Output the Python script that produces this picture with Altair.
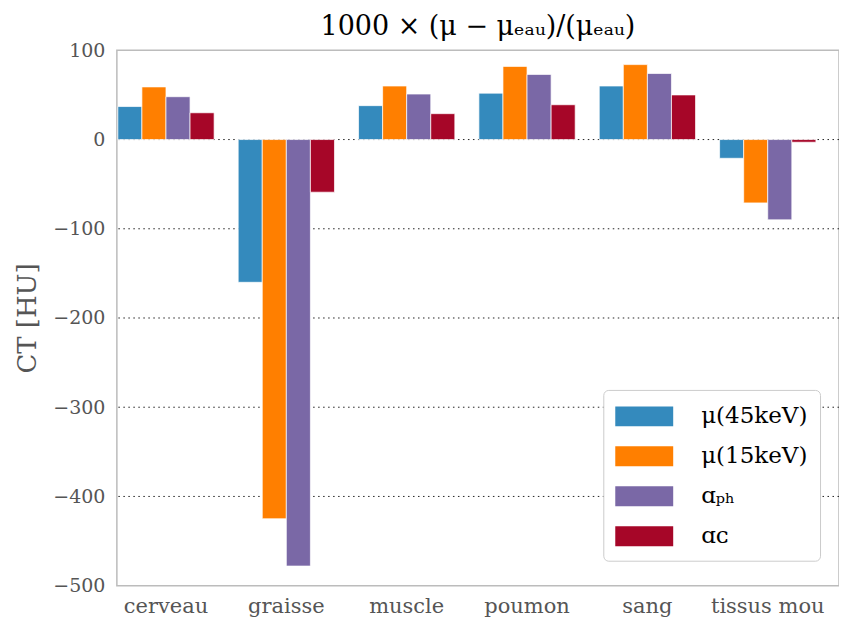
import altair as alt
import pandas as pd

# ---- data ----
categories = ["cerveau", "graisse", "muscle", "poumon", "sang", "tissus mou"]
series_names = ["μ(45keV)", "μ(15keV)", "ɑₚₕ", "ɑᴄ"]
mu_45kev = [37, -160, 38, 52, 60, -21]
mu_15kev = [59, -425, 60, 82, 84, -71]
a_ph = [48, -478, 51, 73, 74, -90]
a_c = [30, -59, 29, 39, 50, -3]
colors = ["#348ABD", "#FF7F00", "#7A68A6", "#A60628"]
y_ticks = [100, 0, -100, -200, -300, -400, -500]
grid_values = [0, -100, -200, -300, -400]
title_text = "1000 × (μ − μₑₐᵤ)/(μₑₐᵤ)"
y_title = "CT [HU]"

FONT = "DejaVu Serif"

rows = []
for s, vals in zip(series_names, [mu_45kev, mu_15kev, a_ph, a_c]):
    for c, v in zip(categories, vals):
        rows.append({"tissu": c, "serie": s, "valeur": v})
df = pd.DataFrame(rows)
grid_df = pd.DataFrame({"valeur": grid_values})

y_scale = alt.Scale(domain=[-500, 100], nice=False, zero=False)


def y_axis():
    return alt.Axis(
        values=y_ticks, ticks=False, domain=False, grid=False,
        labelFont=FONT, labelFontSize=19, labelColor="#555555", labelPadding=12,
        title=y_title, titleFont=FONT, titleFontSize=26, titleColor="#555555",
        titleFontWeight="normal", titlePadding=12,
    )


grid = alt.Chart(grid_df).mark_rule(
    color="#222222", strokeDash=[1.5, 3.5], strokeWidth=1
).encode(y=alt.Y("valeur:Q", scale=y_scale, axis=y_axis()))

bars = alt.Chart(df).mark_bar(
    stroke="white", strokeWidth=1, strokeOpacity=0.7
).encode(
    x=alt.X(
        "tissu:N", sort=categories,
        scale=alt.Scale(paddingInner=0.2, paddingOuter=0.1, align=0.04),
        axis=alt.Axis(
            title=None, labelAngle=0, ticks=False, domain=False, grid=False,
            labelFont=FONT, labelFontSize=21, labelColor="#555555", labelPadding=10,
        ),
    ),
    xOffset=alt.XOffset(
        "serie:N", sort=series_names,
        scale=alt.Scale(paddingInner=0, paddingOuter=0),
    ),
    y=alt.Y("valeur:Q", scale=y_scale, axis=y_axis()),
    color=alt.Color(
        "serie:N", sort=series_names,
        scale=alt.Scale(domain=series_names, range=colors),
        legend=alt.Legend(
            title=None, orient="none", legendX=487, legendY=340,
            direction="vertical",
            symbolType="M-1,-0.69H3V0.69H-1Z", symbolSize=841,
            symbolStrokeWidth=0, symbolOpacity=1,
            labelFont=FONT, labelFontSize=23, labelColor="black",
            labelOffset=57, rowPadding=13, padding=12, labelLimit=0,
            fillColor="white", strokeColor="#cccccc", cornerRadius=5,
        ),
    ),
)

chart = alt.layer(grid, bars).properties(
    width=723,
    height=536,
    title=alt.TitleParams(
        text=title_text, font=FONT, fontSize=27, color="black",
        fontWeight="normal", anchor="middle", frame="group", offset=0,
    ),
    autosize=alt.AutoSizeParams(type="none"),
    padding={"left": 109, "top": 42, "right": 0, "bottom": 40},
).configure_view(stroke="#bcbcbc", strokeWidth=1.5)

chart.save("out.html", embed_options={"renderer": "svg", "actions": False})
